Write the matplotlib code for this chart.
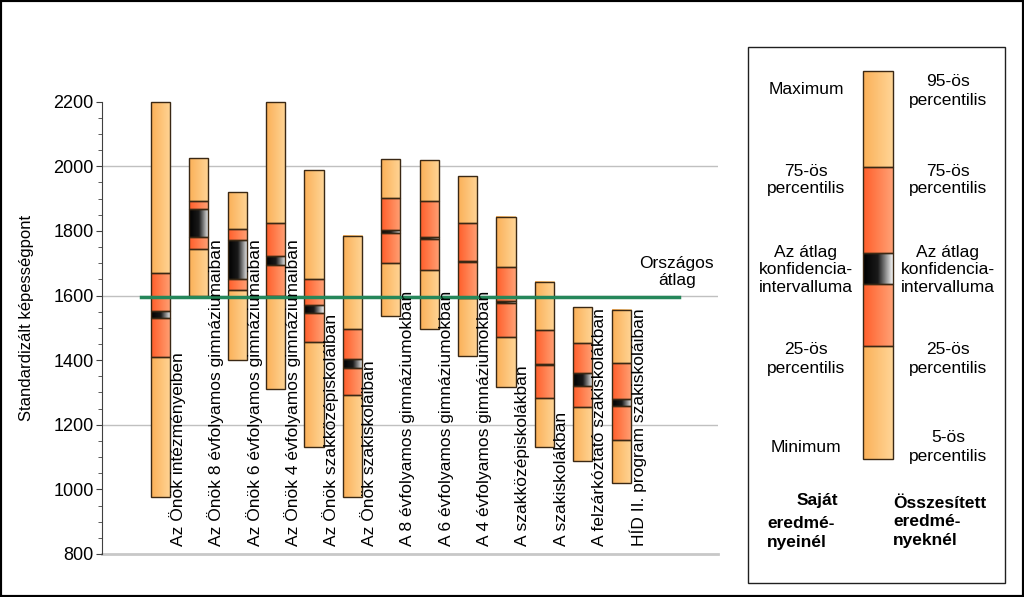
import numpy as np
import matplotlib
matplotlib.use('Agg')
import matplotlib.pyplot as plt
from matplotlib.patches import Rectangle
from matplotlib.colors import LinearSegmentedColormap

plt.rcParams['font.family'] = ['Liberation Sans', 'DejaVu Sans']

#------------------------------------------------------------------------------
CATEGORIES = ['Az Önök intézményeiben',
              'Az Önök 8 évfolyamos gimnáziumaiban',
              'Az Önök 6 évfolyamos gimnáziumaiban',
              'Az Önök 4 évfolyamos gimnáziumaiban',
              'Az Önök szakközépiskoláiban',
              'Az Önök szakiskoláiban',
              'A 8 évfolyamos gimnáziumokban',
              'A 6 évfolyamos gimnáziumokban',
              'A 4 évfolyamos gimnáziumokban',
              'A szakközépiskolákban',
              'A szakiskolákban',
              'A felzárkóztató szakiskolákban',
              'HÍD II. program szakiskoláiban']
TOP    = [2200, 2025, 1921, 2200, 1989, 1784, 2022, 2019, 1969, 1842, 1642, 1565, 1555]
P75    = [1669, 1893, 1807, 1824, 1652, 1495, 1903, 1893, 1824, 1687, 1492, 1454, 1390]
CI_HI  = [1551, 1868, 1771, 1723, 1570, 1403, 1803, 1781, 1707, 1583, 1389, 1359, 1280]
CI_LO  = [1530, 1780, 1652, 1693, 1545, 1375, 1793, 1774, 1703, 1578, 1385, 1320, 1258]
P25    = [1409, 1744, 1617, 1598, 1457, 1292, 1702, 1678, 1591, 1472, 1283, 1255, 1153]
BOTTOM = [977, 1598, 1402, 1310, 1132, 975, 1537, 1495, 1412, 1316, 1131, 1088, 1020]
NATIONAL_AVG = 1597

ORANGE = LinearSegmentedColormap.from_list('o', ['#FBB058', '#FFD596'])
RED    = LinearSegmentedColormap.from_list('r', ['#FF5E2A', '#FFA175'])
CIGRAD = LinearSegmentedColormap.from_list('c', ['#000000', '#1a1a1a', '#F4F4F4'])
EDGE   = '#3A2814'
GRAD   = np.linspace(0, 1, 64).reshape(1, -1)

#------------------------------------------------------------------------------
def segment(ax, x0, x1, y0, y1, cmap, z=2):
  ax.imshow(GRAD, cmap=cmap, extent=(x0, x1, y0, y1), aspect='auto',
            interpolation='bilinear', zorder=z)
  ax.add_patch(Rectangle((x0, y0), x1 - x0, y1 - y0, fill=False, ec=EDGE,
                         lw=1, zorder=z + 0.1, clip_on=False))

def box(ax, x, w, top, p75, cihi, cilo, p25, bot):
  x0, x1 = x - w / 2, x + w / 2
  segment(ax, x0, x1, bot, p25, ORANGE)
  segment(ax, x0, x1, p25, cilo, RED)
  segment(ax, x0, x1, cilo, cihi, CIGRAD)
  segment(ax, x0, x1, cihi, p75, RED)
  segment(ax, x0, x1, p75, top, ORANGE)

#------------------------------------------------------------------------------
def main():
  W, H = 1024, 597
  fig = plt.figure(figsize=(W / 100, H / 100), dpi=100)
  ax = fig.add_axes([102 / W, 1 - 554 / H, (718 - 102) / W, (554 - 101.7) / H])

  for g in [1200, 1600, 2000]:
    ax.axhline(g, color='#C0C0C0', lw=1, zorder=0)
  ax.axhline(800, color='#C8C8C8', lw=2, zorder=0, clip_on=False)

  xs = np.arange(len(CATEGORIES))
  for i in xs:
    box(ax, i, 0.5, TOP[i], P75[i], CI_HI[i], CI_LO[i], P25[i], BOTTOM[i])
    ax.text(i + 0.44, 825, CATEGORIES[i], rotation=90, ha='center', va='bottom',
            fontsize=12.5, zorder=5)

  ax.plot([-0.5, 13.5], [NATIONAL_AVG, NATIONAL_AVG], color='#25875A', lw=2.5, zorder=4)
  ax.text(13.45, 1672, 'Országos\nátlag', ha='center', va='center',
          multialignment='center', fontsize=12.5, linespacing=1.15)

  ax.set_xlim(-1.52, 14.52)
  ax.set_ylim(800, 2200)
  ax.set_yticks(np.arange(800, 2201, 200))
  ax.set_yticks(np.arange(800, 2201, 50), minor=True)
  ax.tick_params(axis='y', which='major', length=4, color='#404040', labelsize=13, pad=2)
  ax.tick_params(axis='y', which='minor', length=3, color='#404040')
  ax.set_xticks([])
  for s in ['top', 'right', 'bottom']:
    ax.spines[s].set_visible(False)
  ax.spines['left'].set_color('#404040')
  fig.text(27 / W, 1 - 318 / H, 'Standardizált képességpont', rotation=90,
           ha='center', va='center', fontsize=12)

  # legend panel in pixel coordinates
  lg = fig.add_axes([0, 0, 1, 1], zorder=-1)
  lg.set_xlim(0, W)
  lg.set_ylim(H, 0)
  lg.axis('off')
  lg.add_patch(Rectangle((748, 47), 257, 536, fill=False, ec='#202020', lw=1))
  lx0, lx1 = 863, 893
  for y0, y1, cm in [(71, 167, ORANGE), (167, 253, RED), (253, 284, CIGRAD),
                     (284, 346, RED), (346, 459, ORANGE)]:
    lg.imshow(GRAD, cmap=cm, extent=(lx0, lx1, y1, y0), aspect='auto',
              interpolation='bilinear', zorder=2)
    lg.add_patch(Rectangle((lx0, y0), lx1 - lx0, y1 - y0, fill=False, ec=EDGE, lw=1, zorder=3))
  lg.set_xlim(0, W)
  lg.set_ylim(H, 0)

  fs = 12.5
  left_txt = [(90, 'Maximum'), (180, '75-ös\npercentilis'), (270, 'Az átlag\nkonfidencia-\nintervalluma'),
              (359, '25-ös\npercentilis'), (447, 'Minimum')]
  right_txt = [(91, '95-ös\npercentilis'), (180, '75-ös\npercentilis'), (270, 'Az átlag\nkonfidencia-\nintervalluma'),
               (359, '25-ös\npercentilis'), (447, '5-ös\npercentilis')]
  for y, t in left_txt:
    lg.text(806, y, t, ha='center', va='center', fontsize=fs, linespacing=1.25)
  for y, t in right_txt:
    lg.text(948, y, t, ha='center', va='center', fontsize=fs, linespacing=1.25)
  lg.text(817, 500, 'Saját', ha='center', va='center', fontsize=fs, fontweight='bold')
  lg.text(767, 533, 'eredmé-\nnyeinél', ha='left', va='center', fontsize=fs,
          fontweight='bold', linespacing=1.25)
  lg.text(893, 522, 'Összesített\neredmé-\nnyeknél', ha='left', va='center', fontsize=fs,
          fontweight='bold', linespacing=1.25)

  fig.add_artist(Rectangle((0, 0), 1, 1, transform=fig.transFigure, fill=False,
                           ec='black', lw=3))
  fig.savefig('out.png', dpi=100)

#------------------------------------------------------------------------------
if __name__ == '__main__':
  main()
